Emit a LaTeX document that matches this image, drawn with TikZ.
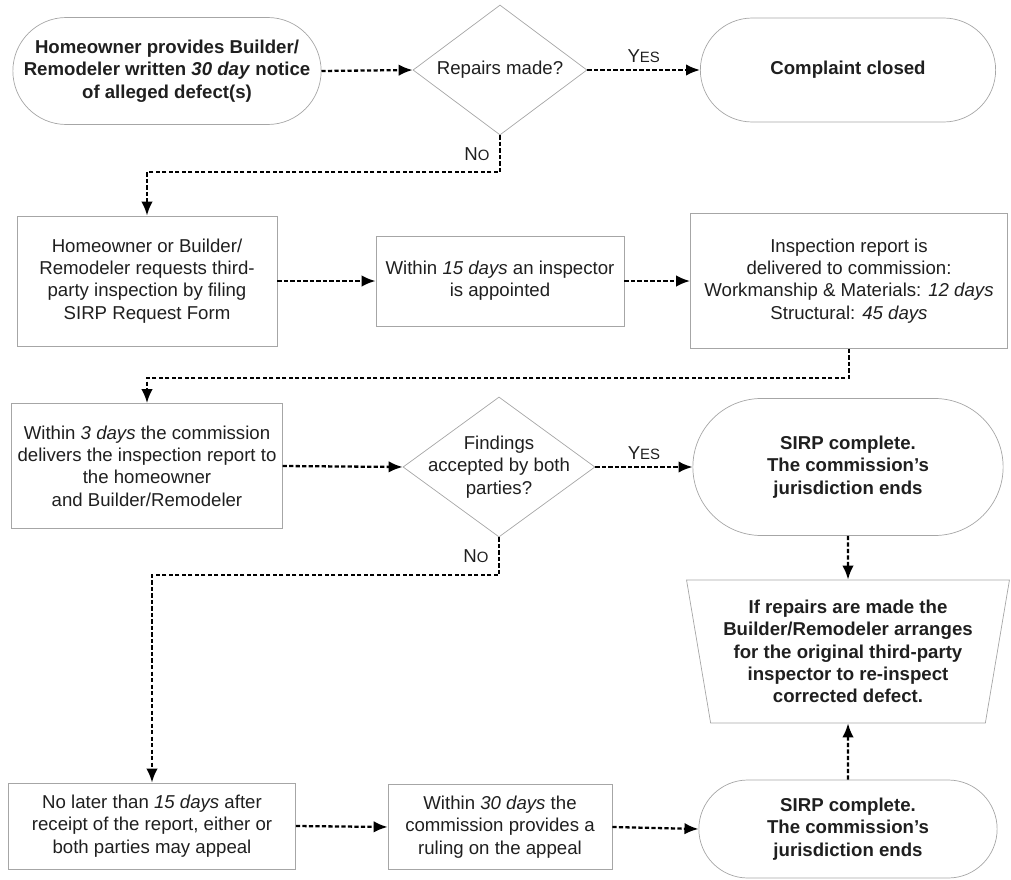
\documentclass[tikz,border=0pt]{standalone}
\usepackage{fontspec}
\setmainfont{Liberation Sans}
\usetikzlibrary{shapes.geometric,shapes.misc,arrows.meta}
\newcommand{\smallcap}[2]{#1{\fontsize{8.5}{10}\selectfont #2}}

\begin{document}
\begin{tikzpicture}[
  every node/.style={font=\fontsize{10.6}{12.7}\selectfont, text=black!88},
  termnode/.style={rounded rectangle, draw=black!35, thin, align=center, font=\bfseries\fontsize{10.6}{12.7}\selectfont},
  boxnode/.style={rectangle, draw=black!35, thin, align=center},
  decisionnode/.style={diamond, draw=black!35, thin, inner sep=0pt},
  slantnode/.style={trapezium, trapezium stretches=true, shape border rotate=180, trapezium left angle=78.7, trapezium right angle=78.7, draw=black!35, thin, align=center, font=\bfseries\fontsize{10.6}{12.7}\selectfont},
  flow/.style={-{Latex[length=2.8mm,width=2.3mm]}, line width=1.3pt, dash pattern=on 2.4pt off 1.3pt},
  ]
\useasboundingbox (0,0) rectangle (20.22,-17.6);

\node[termnode, minimum width=6.4cm, minimum height=2.14cm] (notice) at (3.34,-1.42) {Homeowner provides Builder/\\Remodeler written \textit{30 day} notice\\of alleged defect(s)};
\node[decisionnode, minimum width=3.48cm, minimum height=2.6cm, label={[align=center]center:Repairs made?}] (repairs) at (10,-1.4) {};
\node[termnode, minimum width=6.14cm, minimum height=2.08cm] (closed) at (16.96,-1.4) {Complaint closed};

\node[boxnode, minimum width=5.2cm, minimum height=2.6cm] (request) at (2.94,-5.62) {Homeowner or Builder/\\Remodeler requests third-\\party inspection by filing\\SIRP Request Form};
\node[boxnode, minimum width=4.96cm, minimum height=1.8cm] (appoint) at (10,-5.62) {Within \textit{15 days} an inspector\\is appointed};
\node[boxnode, minimum width=6.34cm, minimum height=2.7cm] (report) at (16.98,-5.62) {Inspection report is\\delivered to commission:\\Workmanship \& Materials: \textit{12 days}\\Structural: \textit{45 days}};

\node[boxnode, minimum width=5.3cm, minimum height=2.5cm] (deliver) at (2.94,-9.32) {Within \textit{3 days} the commission\\delivers the inspection report to\\the homeowner\\and Builder/Remodeler};
\node[decisionnode, minimum width=3.84cm, minimum height=2.8cm, label={[align=center]center:Findings\\accepted by both\\parties?}] (findings) at (9.98,-9.34) {};
\node[termnode, minimum width=6.44cm, minimum height=2.74cm] (sirpa) at (16.96,-9.34) {SIRP complete.\\The commission's\\jurisdiction ends};

\node[slantnode, minimum width=6.46cm, minimum height=2.86cm] (reinspect) at (16.96,-13.03) {If repairs are made the\\Builder/Remodeler arranges\\for the original third-party\\inspector to re-inspect\\corrected defect.};

\node[boxnode, minimum width=5.74cm, minimum height=1.72cm] (appeal) at (3.04,-16.52) {No later than \textit{15 days} after\\receipt of the report, either or\\both parties may appeal};
\node[boxnode, minimum width=4.48cm, minimum height=1.7cm] (ruling) at (10,-16.54) {Within \textit{30 days} the\\commission provides a\\ruling on the appeal};
\node[termnode, minimum width=6.2cm, minimum height=1.96cm] (sirpb) at (16.96,-16.58) {SIRP complete.\\The commission's\\jurisdiction ends};

\draw[flow] (notice.east) -- (repairs.west);
\draw[flow] (repairs.east) -- node[above] {\smallcap{Y}{ES}} (closed.west);
\draw[flow] (repairs.south) -- node[left, xshift=-2pt] {\smallcap{N}{O}} ++(0,-0.74) -| (request.north);

\draw[flow] (request.east) -- (appoint.west);
\draw[flow] (appoint.east) -- (report.west);
\draw[flow] (report.south) -- ++(0,-0.58) -| (deliver.north);

\draw[flow] (deliver.east) -- (findings.west);
\draw[flow] (findings.east) -- node[above] {\smallcap{Y}{ES}} (sirpa.west);
\draw[flow] (findings.south) -- node[left, xshift=-2pt] {\smallcap{N}{O}} ++(0,-0.76) -| (appeal.north);
\draw[flow] (sirpa.south) -- (reinspect.north);

\draw[flow] (appeal.east) -- (ruling.west);
\draw[flow] (ruling.east) -- (sirpb.west);
\draw[flow] (sirpb.north) -- (reinspect.south);

\end{tikzpicture}
\end{document}
